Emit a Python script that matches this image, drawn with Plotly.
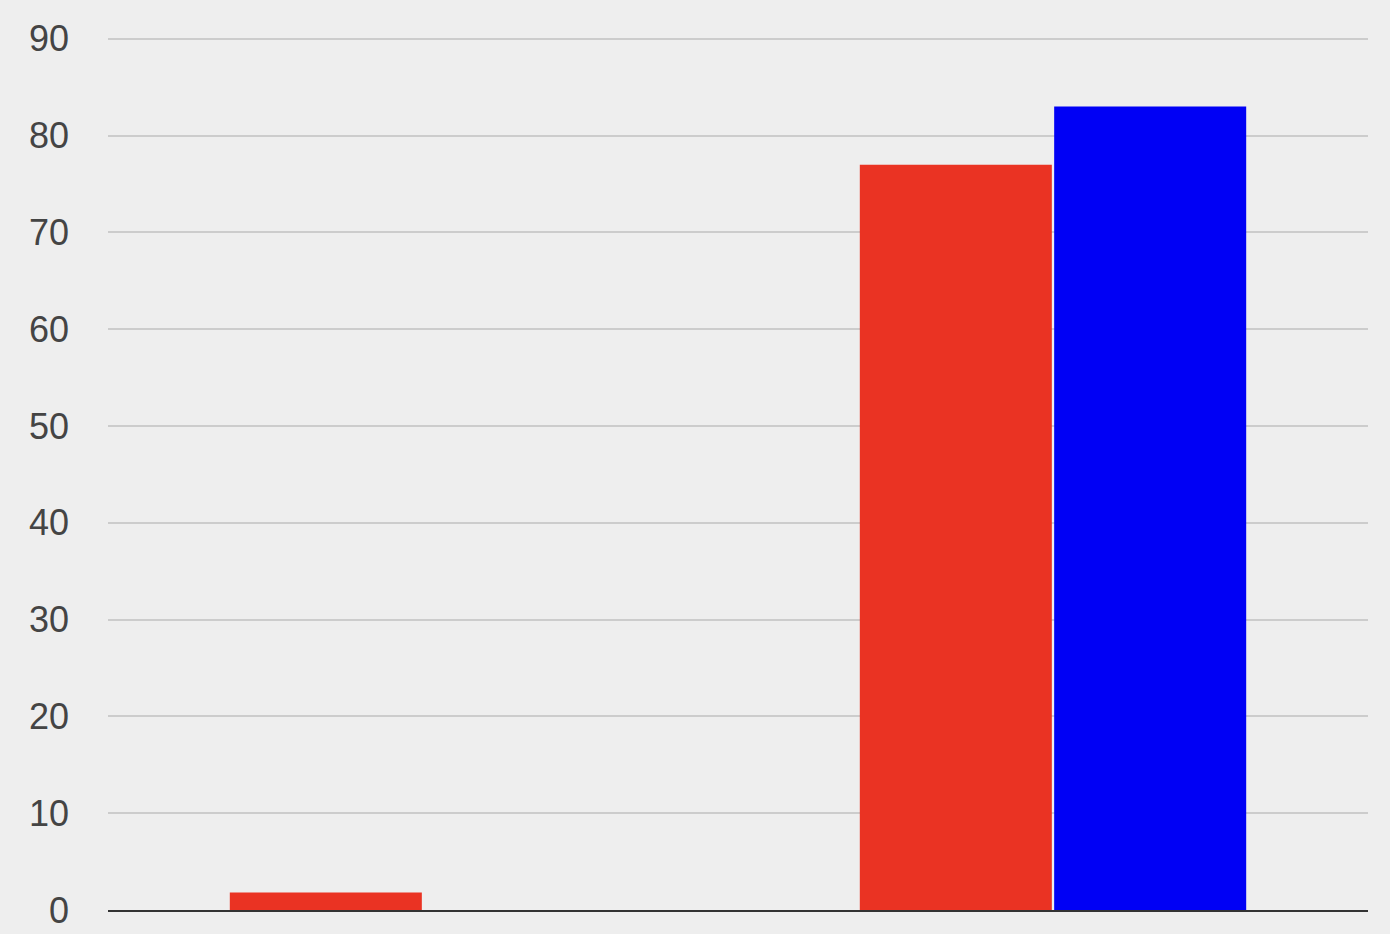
import plotly.graph_objects as go

# two groups, two series
categories = ["A", "B"]
red_values = [1.8, 77]
blue_values = [0, 83]
y_ticks = [0, 10, 20, 30, 40, 50, 60, 70, 80, 90]

fig = go.Figure()
fig.add_trace(go.Bar(x=categories, y=red_values, marker=dict(color="#ea3323", line=dict(width=0))))
fig.add_trace(go.Bar(x=categories, y=blue_values, marker=dict(color="#0000f5", line=dict(width=0))))

fig.update_layout(
    width=1390, height=934,
    barmode="group", bargap=0.383, bargroupgap=0.012,
    showlegend=False,
    paper_bgcolor="#eeeeee", plot_bgcolor="#eeeeee",
    margin=dict(l=108, r=22, t=34, b=24),
    font=dict(family="Liberation Sans, Arial, sans-serif", size=36, color="#444444"),
)
fig.update_xaxes(showticklabels=False, showgrid=False, zeroline=False, automargin=False,
                 showline=True, linecolor="#333333", linewidth=2)
# a bit of headroom above 90 so the top grid line is kept
fig.update_yaxes(range=[0, 90.5], tickvals=y_ticks, showgrid=True, gridcolor="#cccccc",
                 gridwidth=2, zeroline=False, ticks="", ticklabelstandoff=38, automargin=False)

# page body has a default margin, drop it so the grey fills the window
fig.write_html("out.html", config={"displayModeBar": False},
               post_script="document.body.style.margin='0';document.body.style.background='#eeeeee';")
